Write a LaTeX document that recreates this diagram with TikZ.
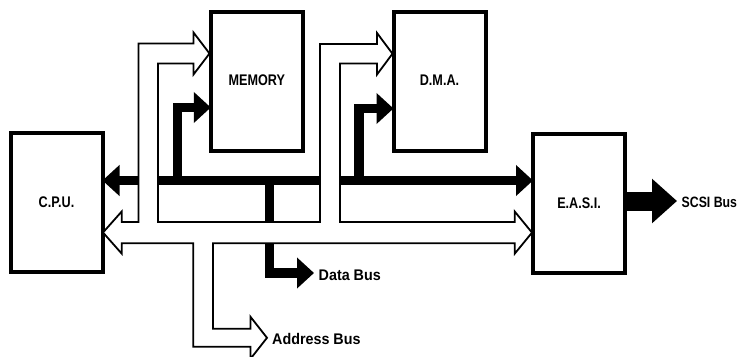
\documentclass[tikz,border=0pt]{standalone}
\usepackage{fontspec}
\newfontfamily\boxfont{Liberation Sans}[FakeStretch=0.82]
\newfontfamily\busfont{Liberation Sans}[FakeStretch=0.93]
\usetikzlibrary{arrows.meta}
\begin{document}
\begin{tikzpicture}[x=1pt,y=-1pt,
  unit/.style={draw, line width=4pt, minimum width=92pt, minimum height=139pt,
    outer sep=0pt, inner sep=0pt, font=\boxfont\bfseries\fontsize{15.4}{16}\selectfont},
  dbus/.style={line width=9.5pt, line join=miter, -{Triangle[length=17pt,width=30pt]}},
  sbus/.style={line width=19pt, -{Triangle[length=25pt,width=43pt]}},
  abus/.style={draw, fill=white, line width=1.8pt, line join=miter},
  lbl/.style={anchor=west, inner sep=0pt, font=\busfont\bfseries\fontsize{15.4}{16}\selectfont}]
\useasboundingbox (0,0) rectangle (741,356);
\fill[white] (0,0) rectangle (741,356);

% units
\node[unit] (cpu)  at (56.5,202.5) {C.P.U.};
\node[unit] (mem)  at (256.8,81)   {\raisebox{2pt}{MEMORY}};
\node[unit] (dma)  at (439.5,81)   {\raisebox{2pt}{D.M.A.}};
\node[unit] (easi) at (579,203)    {E.A.S.I.};

% bus levels
\coordinate (dy)   at (0,180.5);
\coordinate (dj)   at (269.5,180.5);
\coordinate (mj)   at (177.5,180.5);
\coordinate (dmj)  at (359,180.5);
\coordinate (my)   at (0,107.5);
\coordinate (dmy)  at (0,108.5);
\coordinate (dout) at (314,273);
\coordinate (sy)   at (0,201);
\coordinate (sout) at (677,201);

% data bus (black)
\draw[dbus] (dj) -- (cpu.east |- dy);
\draw[dbus] (dj) -- (easi.west |- dy);
\draw[dbus] (mj) |- (mem.west |- my);
\draw[dbus] (dmj) |- (dma.west |- dmy);
\draw[dbus] (dj) |- (dout);
\draw[sbus] (easi.east |- sy) -- (sout);

% address bus (hollow)
\path[abus] (103,232.5) -- (121.7,211.5) -- (121.7,222) -- (138.5,222)
  -- (138.5,43.5) -- (193.5,43.5) -- (193.5,32.5) -- (209.5,53.5)
  -- (193.5,74.5) -- (193.5,63.5) -- (158,63.5) -- (158,222)
  -- (320,222) -- (320,44) -- (377,44) -- (377,33) -- (392.5,53.7)
  -- (377,74.5) -- (377,63.5) -- (340,63.5) -- (340,222)
  -- (514.7,222) -- (514.7,211.5) -- (532,232.6) -- (514.7,253.7)
  -- (514.7,243.3) -- (213,243.3) -- (213,328.8) -- (250.5,328.8)
  -- (250.5,316.8) -- (267,337.8) -- (250.5,358.8) -- (250.5,346.7)
  -- (193.3,346.7) -- (193.3,243.3) -- (121.7,243.3) -- (121.7,253.6)
  -- cycle;

% labels
\node[lbl] (ldata) at (318.5,275) {Data Bus};
\node[lbl] (laddr) at (272,338.5) {Address Bus};
\node[lbl, font=\boxfont\bfseries\fontsize{15}{16}\selectfont] (lscsi) at (681.5,202.5) {SCSI Bus};
\end{tikzpicture}
\end{document}
